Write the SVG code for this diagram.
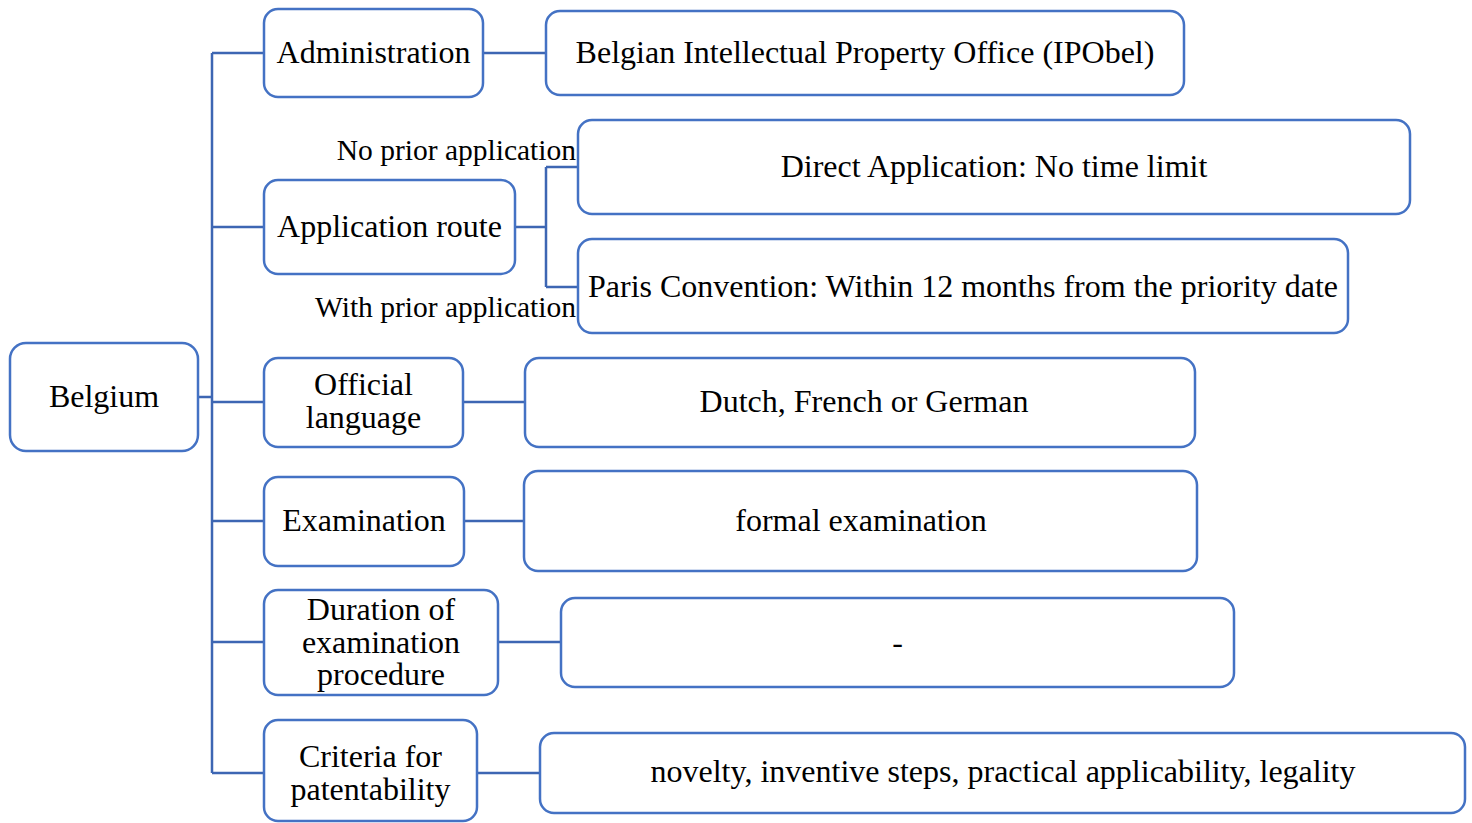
<svg xmlns="http://www.w3.org/2000/svg" width="1472" height="823" viewBox="0 0 1472 823">
<style>
.box{fill:#fff;stroke:#4472C4;stroke-width:2.5}
.ln{fill:none;stroke:#3D66B3;stroke-width:2.5}
text{font-family:"Liberation Serif","Times New Roman",serif;font-size:32px;fill:#000;text-anchor:middle}
.lbl{font-size:29.5px;text-anchor:end}
</style>
<rect width="1472" height="823" fill="#fff"/>
<g id="connectors">
<path class="ln" d="M198 397H212M212 53V773M212 53H264M483 53H546M212 227H264M515 227H546M546 167V287M546 167H578M546 287H578M212 402H264M463 402H525M212 521H264M464 521H524M212 642H264M498 642H561M212 773H264M477 773H540"/>
</g>
<g id="belgium"><rect class="box" x="10" y="343" width="188" height="108" rx="16"/><text x="104" y="407">Belgium</text></g>
<g id="administration"><rect class="box" x="264" y="9" width="219" height="88" rx="14"/><text x="373.5" y="63">Administration</text></g>
<g id="ipobel"><rect class="box" x="546" y="11" width="638" height="84" rx="14"/><text x="865" y="63">Belgian Intellectual Property Office (IPObel)</text></g>
<g id="application-route"><rect class="box" x="264" y="180" width="251" height="94" rx="14"/><text x="389.5" y="237">Application route</text></g>
<g id="label-no-prior"><text class="lbl" x="576" y="160">No prior application</text></g>
<g id="label-with-prior"><text class="lbl" x="576" y="317">With prior application</text></g>
<g id="direct"><rect class="box" x="578" y="120" width="832" height="94" rx="14"/><text x="994" y="177">Direct Application: No time limit</text></g>
<g id="paris"><rect class="box" x="578" y="239" width="770" height="94" rx="14"/><text x="963" y="297">Paris Convention: Within 12 months from the priority date</text></g>
<g id="official-language"><rect class="box" x="264" y="358" width="199" height="89" rx="14"/><text x="363.5" y="395">Official</text><text x="363.5" y="428">language</text></g>
<g id="languages"><rect class="box" x="525" y="358" width="670" height="89" rx="14"/><text x="864" y="412">Dutch, French or German</text></g>
<g id="examination"><rect class="box" x="264" y="477" width="200" height="89" rx="14"/><text x="364" y="531">Examination</text></g>
<g id="formal"><rect class="box" x="524" y="471" width="673" height="100" rx="14"/><text x="861" y="531">formal examination</text></g>
<g id="duration"><rect class="box" x="264" y="590" width="234" height="105" rx="14"/><text x="381" y="620">Duration of</text><text x="381" y="653">examination</text><text x="381" y="685">procedure</text></g>
<g id="duration-value"><rect class="box" x="561" y="598" width="673" height="89" rx="14"/><text x="897.5" y="653">-</text></g>
<g id="criteria"><rect class="box" x="264" y="720" width="213" height="101" rx="14"/><text x="370.5" y="767">Criteria for</text><text x="370.5" y="800">patentability</text></g>
<g id="criteria-value"><rect class="box" x="540" y="733" width="925" height="80" rx="14"/><text x="1003" y="782">novelty, inventive steps, practical applicability, legality</text></g>
</svg>
